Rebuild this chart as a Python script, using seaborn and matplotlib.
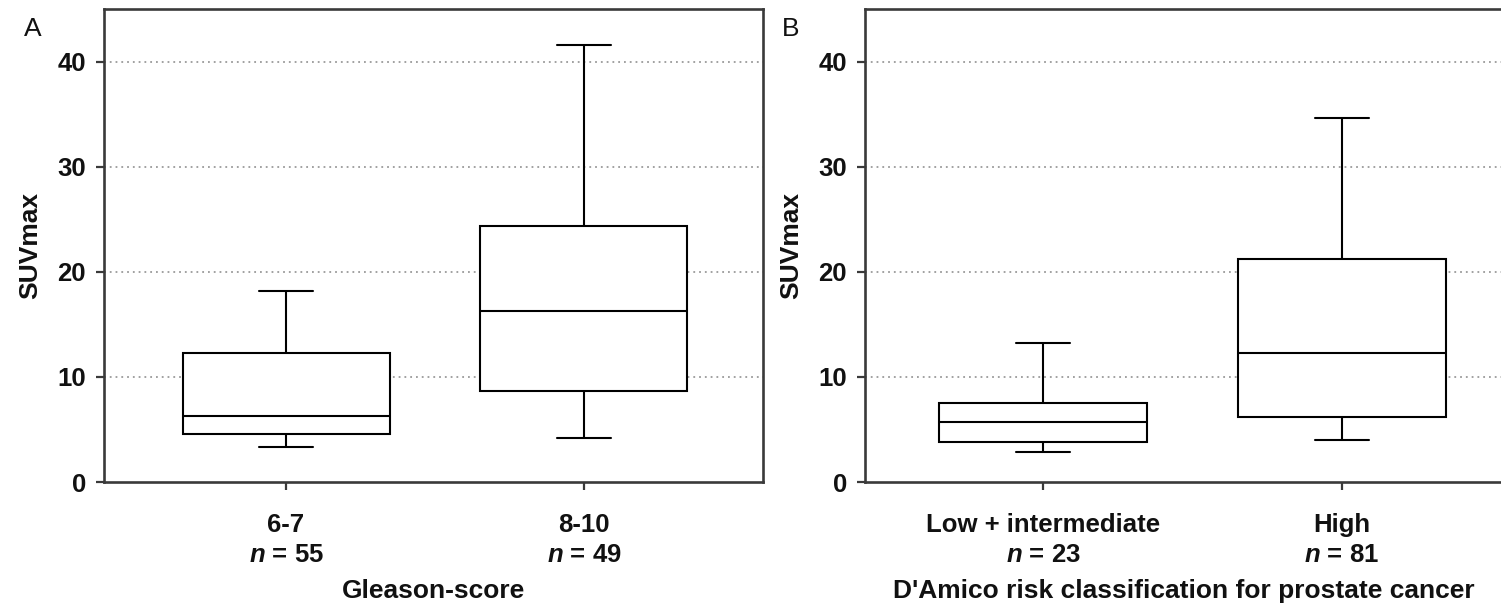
import matplotlib
matplotlib.use("Agg")
import matplotlib.pyplot as plt
import seaborn as sns
import pandas as pd

# ---- data ----
gleason_cats = ["6-7", "8-10"]
gleason_n = [55, 49]
gleason_min = [3.3, 4.2]
gleason_q1 = [4.55, 8.7]
gleason_med = [6.3, 16.3]
gleason_q3 = [12.3, 24.4]
gleason_max = [18.2, 41.6]

damico_cats = ["Low + intermediate", "High"]
damico_n = [23, 81]
damico_min = [2.85, 3.95]
damico_q1 = [3.8, 6.15]
damico_med = [5.75, 12.3]
damico_q3 = [7.5, 21.25]
damico_max = [13.25, 34.6]

y_ticks = [0, 10, 20, 30, 40]
grid_vals = [10, 20, 30, 40]


def five_point_frame(cats, mins, q1s, meds, q3s, maxs):
    rows = []
    for c, a, b, m, d, e in zip(cats, mins, q1s, meds, q3s, maxs):
        for v in (a, b, m, d, e):
            rows.append({"group": c, "value": v})
    return pd.DataFrame(rows)


df_a = five_point_frame(gleason_cats, gleason_min, gleason_q1, gleason_med, gleason_q3, gleason_max)
df_b = five_point_frame(damico_cats, damico_min, damico_q1, damico_med, damico_q3, damico_max)

sns.set_theme(style="white")
plt.rcParams["font.family"] = ["Liberation Sans", "DejaVu Sans"]
plt.rcParams["mathtext.fontset"] = "custom"
plt.rcParams["mathtext.it"] = "Liberation Sans:italic:bold"
plt.rcParams["mathtext.rm"] = "Liberation Sans:bold"
plt.rcParams["mathtext.bf"] = "Liberation Sans:bold"
plt.rcParams["text.color"] = "#111111"
plt.rcParams["axes.labelcolor"] = "#111111"
plt.rcParams["xtick.color"] = "#111111"
plt.rcParams["ytick.color"] = "#111111"

W, H = 1501, 605
fig = plt.figure(figsize=(W / 100, H / 100), dpi=100)


def px_axes(l, r, t, b):
    return fig.add_axes([l / W, (H - b) / H, (r - l) / W, (b - t) / H])


ax_a = px_axes(104, 763, 9, 482)
ax_b = px_axes(865, 1502, 9, 482)

spine_col = "#3a3a3a"
fs_tick = 18.5
fs_label = 19


def draw(ax, df, cats, ns, xlim, xlabel, letter, letter_x):
    sns.boxplot(data=df, x="group", y="value", order=cats, ax=ax,
                whis=(0, 100), width=0.695, color="white", linecolor="black",
                linewidth=1.5, fill=True, showfliers=False, capwidths=0.18,
                saturation=1)
    ax.set_ylim(0, 45)
    ax.set_xlim(*xlim)
    ax.set_yticks(y_ticks)
    ax.set_yticklabels([str(t) for t in y_ticks], fontsize=fs_tick, fontweight="bold")
    ax.set_xticks(range(len(cats)))
    ax.set_xticklabels([f"{c}\n$n$ = {n}" for c, n in zip(cats, ns)],
                       fontsize=fs_tick, fontweight="bold", linespacing=1.32)
    for g in grid_vals:
        ax.axhline(g, color="#9a9a9a", linestyle=(0, (1, 2.2)), linewidth=1.3, zorder=0.5)
    ax.set_axisbelow(True)
    for s in ax.spines.values():
        s.set_color(spine_col)
        s.set_linewidth(1.9)
        s.set_visible(True)
    ax.tick_params(axis="both", direction="out", length=6, width=1.6, color=spine_col,
                   labelcolor="#111111", bottom=True, left=True)
    ax.tick_params(axis="y", pad=7)
    ax.tick_params(axis="x", pad=16)
    ax.set_ylabel("SUVmax", fontsize=fs_label, fontweight="bold", labelpad=11)
    ax.set_xlabel(xlabel, fontsize=fs_label, fontweight="bold", labelpad=9)
    fig.text(letter_x / W, 1 - 29 / H, letter, fontsize=19, ha="center", va="center")


draw(ax_a, df_a, gleason_cats, gleason_n, (-0.611, 1.601), "Gleason-score", "A", 33)
draw(ax_b, df_b, damico_cats, damico_n, (-0.595, 1.535),
     "D'Amico risk classification for prostate cancer", "B", 791)

fig.savefig("out.png", dpi=100)
